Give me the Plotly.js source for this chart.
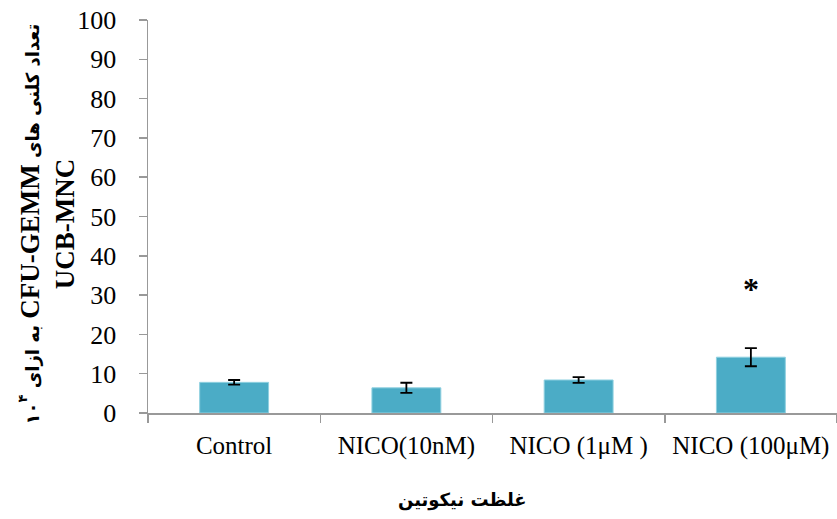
<!DOCTYPE html>
<html>
<head>
<meta charset="utf-8">
<script src="https://cdn.plot.ly/plotly-3.0.1.min.js"></script>
<style>html,body{margin:0;padding:0;background:#fff;}#chart{width:837px;height:519px;}</style>
</head>
<body>
<div id="chart"></div>
<script>
const categories = ['Control', 'NICO(10nM)', 'NICO (1μM )', 'NICO (100μM)'];
const colonyCounts = [7.8, 6.4, 8.4, 14.2];
const errors = [0.6, 1.3, 0.75, 2.3];
const significance = ['', '', '', '*'];
const yTickValues = [0, 10, 20, 30, 40, 50, 60, 70, 80, 90, 100];

const bar = {
  type: 'bar',
  x: categories,
  y: colonyCounts,
  width: 0.4,
  marker: {color: '#4BACC6', line: {color: '#8fd0e0', width: 1}},
  error_y: {type: 'data', array: errors, visible: true, color: '#000', thickness: 1.8, width: 6},
  hoverinfo: 'none'
};

const RLE = '\u202B', PDF = '\u202C';
const ar = (t, sz) => '<span style="font-family:\'DejaVu Sans\';font-size:' + (sz || 18) + 'px;font-weight:bold">' + t + '</span>';
const la = t => '<span style="font-family:\'Liberation Serif\';font-size:27px;font-weight:bold">' + t + '</span>';

const annotations = [];
significance.forEach((s, i) => {
  if (s) annotations.push({
    xref: 'x', yref: 'y', x: categories[i], y: 31.5, text: s,
    showarrow: false, font: {family: 'Liberation Serif', size: 32, color: '#000', weight: 'bold'}
  });
});
annotations.push({
  xref: 'paper', yref: 'paper', x: -0.1465, y: 0.48, xanchor: 'center', yanchor: 'middle',
  textangle: -90, showarrow: false,
  text: RLE + ar('تعداد کلنی های ') + la('CFU-GEMM') + ar(' به ازای ۱۰') + '<sup>' + ar('۴', 13) + '</sup>' + PDF + '<br>' + la('UCB-MNC'),
  font: {family: 'Liberation Serif', size: 27, color: '#000', weight: 'bold'}
});
annotations.push({
  xref: 'paper', yref: 'paper', x: 0.456, y: -0.222, xanchor: 'center', yanchor: 'middle',
  showarrow: false, text: 'غلظت نیکوتین',
  font: {family: 'DejaVu Sans', size: 18, color: '#000', weight: 'bold'}
});

const layout = {
  width: 837, height: 519,
  margin: {l: 148, r: 0, t: 20, b: 106},
  paper_bgcolor: '#fff', plot_bgcolor: '#fff',
  showlegend: false,
  xaxis: {
    type: 'category', showgrid: false, zeroline: false,
    showline: true, linecolor: '#999999', linewidth: 1.5,
    ticks: 'outside', tickson: 'boundaries', ticklen: 8, tickcolor: '#999999', tickwidth: 1.5,
    tickangle: 0, ticklabelstandoff: 9,
    tickfont: {family: 'Liberation Serif', size: 25, color: '#000'}
  },
  yaxis: {
    range: [0, 100], tickvals: yTickValues, showgrid: false, zeroline: false,
    showline: true, linecolor: '#999999', linewidth: 1.5,
    ticks: 'outside', ticklen: 8, tickcolor: '#999999', tickwidth: 1.5,
    ticklabelstandoff: 17,
    tickfont: {family: 'Liberation Serif', size: 26, color: '#000'}
  },
  annotations: annotations
};

Plotly.newPlot('chart', [bar], layout, {displayModeBar: false, staticPlot: true});
</script>
</body>
</html>
